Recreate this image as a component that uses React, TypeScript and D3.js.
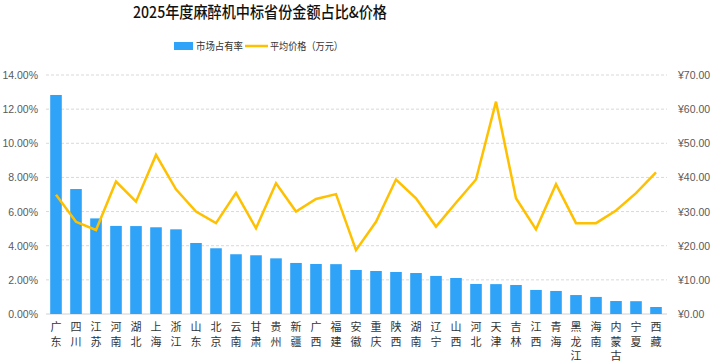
import { useMemo } from "react";
import * as d3 from "d3";

const provinces = [
  "广东", "四川", "江苏", "河南", "湖北", "上海", "浙江", "山东", "北京", "云南",
  "甘肃", "贵州", "新疆", "广西", "福建", "安徽", "重庆", "陕西", "湖南", "辽宁",
  "山西", "河北", "天津", "吉林", "江西", "青海", "黑龙江", "海南", "内蒙古", "宁夏", "西藏",
];

// 市场占有率 (%)
const shares = [
  12.83, 7.32, 5.6, 5.16, 5.15, 5.08, 4.96, 4.16, 3.85, 3.5,
  3.44, 3.26, 2.99, 2.93, 2.92, 2.58, 2.52, 2.46, 2.4, 2.23,
  2.11, 1.76, 1.75, 1.7, 1.41, 1.35, 1.11, 1.0, 0.76, 0.75, 0.41,
];

// 平均价格（万元）
const prices = [
  34.9, 27.0, 24.6, 38.8, 32.9, 46.6, 36.5, 30.0, 26.6, 35.5,
  25.1, 38.3, 30.0, 33.7, 35.1, 18.7, 27.0, 39.4, 33.9, 25.6,
  32.6, 39.4, 62.2, 33.9, 24.8, 38.0, 26.6, 26.6, 30.3, 35.4, 41.5,
];

const leftTicks = [0, 2, 4, 6, 8, 10, 12, 14];
const rightTicks = [0, 10, 20, 30, 40, 50, 60, 70];

const W = 721;
const H = 363;
const BLUE = "#2EA3F7";
const GOLD = "#FFC000";
const LATIN = "'Liberation Sans', Arial, 'Noto Sans CJK SC', sans-serif";
const CJK = "'Noto Sans CJK SC', sans-serif";

export default function App() {
  const left = 46;
  const right = 666;
  const top = 75;
  const bottom = 314;

  const x = useMemo(
    () =>
      d3
        .scaleBand<string>()
        .domain(provinces)
        .range([left, right])
        .paddingInner(0.42)
        .paddingOuter(0.21),
    []
  );
  const yL = d3.scaleLinear().domain([0, 14]).range([bottom, top]);
  const yR = d3.scaleLinear().domain([0, 70]).range([bottom, top]);

  const line = d3
    .line<number>()
    .x((_, i) => (x(provinces[i]) ?? 0) + x.bandwidth() / 2)
    .y((d) => yR(d));

  return (
    <svg
      width={W}
      height={H}
      style={{ position: "absolute", left: 0, top: 0, background: "#fff" }}
    >
      {/* Title */}
      <text
        x={260}
        y={18}
        textAnchor="middle"
        fontFamily={CJK}
        fontSize={16}
        fontWeight={500}
        fill="#111"
        textLength={254}
        lengthAdjust="spacingAndGlyphs"
      >
        2025年度麻醉机中标省份金额占比&价格
      </text>

      {/* Legend */}
      <rect x={174} y={42} width={19} height={8} fill={BLUE} />
      <text x={196} y={50} fontFamily={CJK} fontSize={10.5} fill="#333"
        textLength={47} lengthAdjust="spacingAndGlyphs">
        市场占有率
      </text>
      <line x1={245} x2={268} y1={46} y2={46} stroke={GOLD} strokeWidth={2.5} />
      <text x={270} y={50} fontFamily={CJK} fontSize={10.5} fill="#333"
        textLength={73} lengthAdjust="spacingAndGlyphs">
        平均价格（万元）
      </text>

      {/* Grid */}
      {leftTicks.slice(1).map((t) => (
        <line
          key={t}
          x1={left}
          x2={right + 1}
          y1={yL(t)}
          y2={yL(t)}
          stroke="#d9d9d9"
          strokeDasharray="3,2"
        />
      ))}
      <line x1={left} x2={right + 1} y1={bottom} y2={bottom} stroke="#d0d0d0" />

      {/* Left axis labels */}
      {leftTicks.map((t) => (
        <text
          key={t}
          x={38}
          y={yL(t) + 4}
          textAnchor="end"
          fontFamily={LATIN}
          fontSize={10.5}
          fill="#595959"
        >
          {t.toFixed(2) + "%"}
        </text>
      ))}

      {/* Right axis labels */}
      {rightTicks.map((t) => (
        <text
          key={t}
          x={678}
          y={yR(t) + 4}
          fontFamily={LATIN}
          fontSize={10.5}
          fill="#595959"
        >
          {"¥" + t.toFixed(2)}
        </text>
      ))}

      {/* Bars */}
      {provinces.map((p, i) => (
        <rect
          key={p}
          x={x(p)}
          y={yL(shares[i])}
          width={x.bandwidth()}
          height={bottom - yL(shares[i])}
          fill={BLUE}
        />
      ))}

      {/* Price line */}
      <path
        d={line(prices) ?? ""}
        fill="none"
        stroke={GOLD}
        strokeWidth={2.5}
        strokeLinejoin="miter"
      />

      {/* X labels, one character per row */}
      {provinces.map((p) => {
        const cx = (x(p) ?? 0) + x.bandwidth() / 2;
        return (
          <text
            key={p}
            textAnchor="middle"
            fontFamily={CJK}
            fontSize={11}
            fill="#333"
          >
            {Array.from(p).map((c, j) => (
              <tspan key={j} x={cx} y={331 + j * 14.5}>
                {c}
              </tspan>
            ))}
          </text>
        );
      })}
    </svg>
  );
}
